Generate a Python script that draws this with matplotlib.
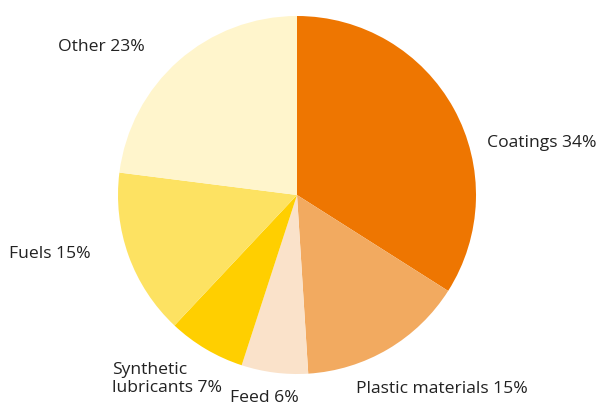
import matplotlib.pyplot as plt

# data
categories = ['Coatings', 'Plastic materials', 'Feed', 'Synthetic\nlubricants', 'Fuels', 'Other']
shares = [34, 15, 6, 7, 15, 23]
colors = ['#EE7601', '#F2AA60', '#FAE2CA', '#FFCF00', '#FDE262', '#FFF5CC']

# label anchor positions in pixels (left edge, vertical centre from top)
label_pos = [(487, 143), (356, 389), (230, 398), (112, 379), (9, 254), (58, 47)]

W, H = 603, 407
plt.rcParams['font.family'] = ['Open Sans', 'DejaVu Sans']

fig = plt.figure(figsize=(W / 100, H / 100), dpi=100)
ax = fig.add_axes([0, 0, 1, 1])

ax.pie(shares, colors=colors, startangle=90, counterclock=False,
       center=(297, H - 195), radius=179, wedgeprops=dict(linewidth=0))

for name, val, (x, y) in zip(categories, shares, label_pos):
    ax.text(x, H - y, f'{name} {val}%', ha='left', va='center',
            fontsize=12.6, color='#222222', linespacing=1.15)

ax.set_xlim(0, W)
ax.set_ylim(0, H)
ax.set_aspect('auto')
ax.axis('off')

fig.savefig('out.png', dpi=100)
